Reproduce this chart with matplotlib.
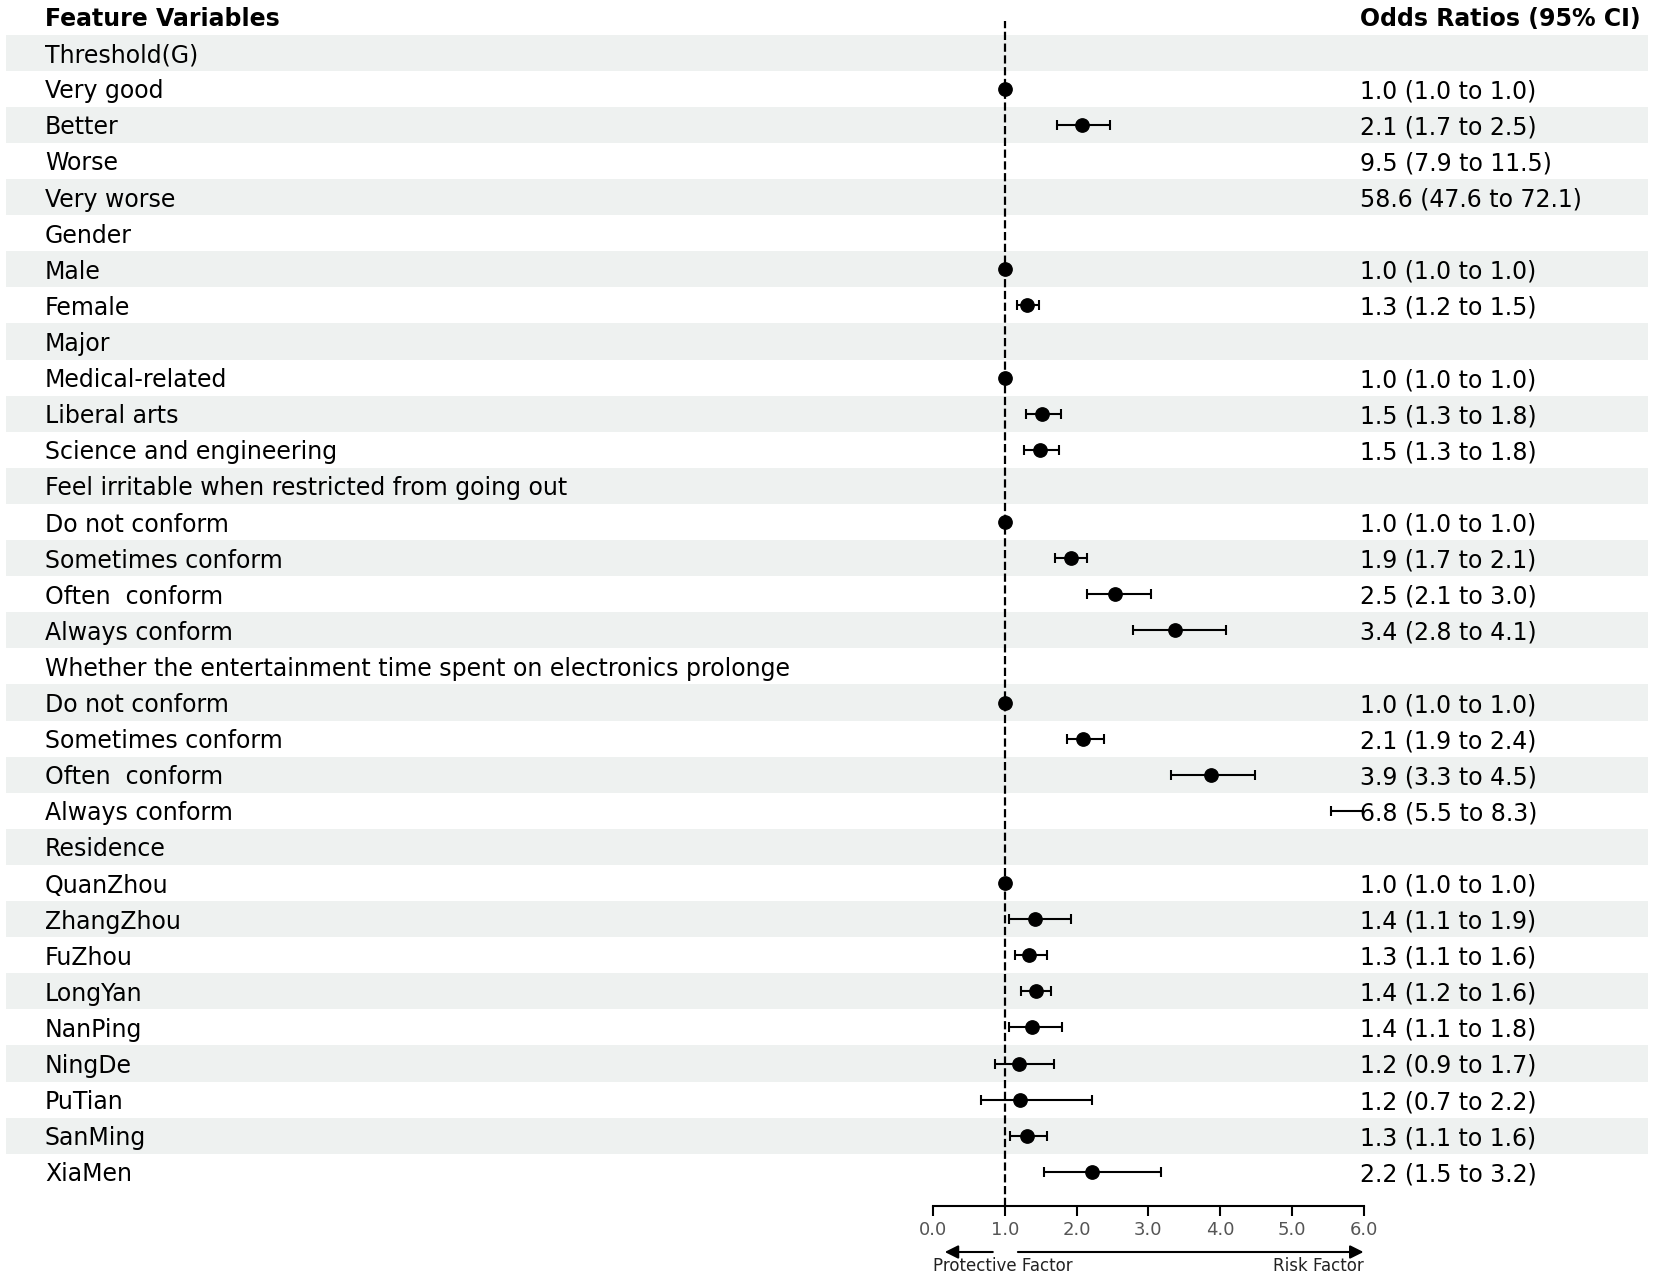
import numpy as np
import matplotlib
matplotlib.use("Agg")
import matplotlib.pyplot as plt

# ---------------- data ----------------
labels = [
    "Threshold(G)", "Very good", "Better", "Worse", "Very worse",
    "Gender", "Male", "Female",
    "Major", "Medical-related", "Liberal arts", "Science and engineering",
    "Feel irritable when restricted from going out",
    "Do not conform", "Sometimes conform", "Often  conform", "Always conform",
    "Whether the entertainment time spent on electronics prolonge",
    "Do not conform", "Sometimes conform", "Often  conform", "Always conform",
    "Residence", "QuanZhou", "ZhangZhou", "FuZhou", "LongYan", "NanPing",
    "NingDe", "PuTian", "SanMing", "XiaMen",
]
nan = np.nan
odds = [nan, 1.0, 2.07, 9.5, 58.6,
        nan, 1.0, 1.31,
        nan, 1.0, 1.52, 1.49,
        nan, 1.0, 1.92, 2.54, 3.37,
        nan, 1.0, 2.09, 3.87, 6.8,
        nan, 1.0, 1.42, 1.34, 1.43, 1.38, 1.20, 1.21, 1.30, 2.21]
ci_low = [nan, 1.0, 1.73, 7.9, 47.6,
          nan, 1.0, 1.17,
          nan, 1.0, 1.29, 1.27,
          nan, 1.0, 1.70, 2.14, 2.78,
          nan, 1.0, 1.86, 3.32, 5.54,
          nan, 1.0, 1.06, 1.14, 1.22, 1.06, 0.86, 0.67, 1.07, 1.54]
ci_high = [nan, 1.0, 2.47, 11.5, 72.1,
           nan, 1.0, 1.48,
           nan, 1.0, 1.78, 1.76,
           nan, 1.0, 2.14, 3.04, 4.08,
           nan, 1.0, 2.38, 4.49, 8.3,
           nan, 1.0, 1.92, 1.58, 1.64, 1.79, 1.69, 2.22, 1.58, 3.18]
xticks = [0.0, 1.0, 2.0, 3.0, 4.0, 5.0, 6.0]

# ---------------- layout helpers ----------------
W, H = 1654, 1280
row0, dr = 52.7, 36.1           # pixel centre of first row, row pitch
def r_of(p):
    return (p - row0) / dr

fig = plt.figure(figsize=(W / 100, H / 100), dpi=100)
fig.patch.set_facecolor("white")

# background axes in pixel-like coordinates
bg = fig.add_axes([0, 0, 1, 1])
bg.set_xlim(0, W)
bg.set_ylim(r_of(H), r_of(0))
bg.axis("off")

n = len(labels)
rows = np.arange(n)
for i in rows:
    if i % 2 == 0:
        bg.add_patch(plt.Rectangle((6, i - 0.5), 1642, 1.0,
                                   facecolor="#eef1f0", edgecolor="none", zorder=0))

FS = 17
bg.text(45, -1, "Feature Variables", fontsize=FS, fontweight="bold",
        ha="left", va="center_baseline", zorder=3)
bg.text(1360, -1, "Odds Ratios (95% CI)", fontsize=FS, fontweight="bold",
        ha="left", va="center_baseline", zorder=3)
for i, lab in enumerate(labels):
    bg.text(45, i, lab, fontsize=FS, ha="left", va="center_baseline", zorder=3)
    if not np.isnan(odds[i]):
        s = f"{odds[i]:.1f} ({ci_low[i]:.1f} to {ci_high[i]:.1f})"
        bg.text(1360, i, s, fontsize=FS, ha="left", va="center_baseline", zorder=3)

# forest axes
x0_px, x6_px = 933.3, 1363.5
top_px, bot_px = 21, 1206
ax = fig.add_axes([x0_px / W, (H - bot_px) / H, (x6_px - x0_px) / W, (bot_px - top_px) / H])
ax.patch.set_alpha(0)
ax.set_xlim(0, 6)
ax.set_ylim(r_of(bot_px), r_of(top_px))

odds_a = np.array(odds)
lo_a = np.array(ci_low)
hi_a = np.array(ci_high)
mask = ~np.isnan(odds_a)
ax.axvline(1.0, color="black", ls="--", lw=1.6, zorder=1)
ax.errorbar(odds_a[mask], rows[mask],
            xerr=[odds_a[mask] - lo_a[mask], hi_a[mask] - odds_a[mask]],
            fmt="o", color="black", ms=9.6, ecolor="black", elinewidth=1.5,
            capsize=3.6, capthick=1.5, zorder=2)

for sp in ["top", "right", "left"]:
    ax.spines[sp].set_visible(False)
ax.spines["bottom"].set_linewidth(1.5)
ax.set_yticks([])
ax.set_xticks(xticks)
ax.set_xticklabels([f"{t:.1f}" for t in xticks])
ax.tick_params(axis="x", length=7, width=1.5, labelsize=13, labelcolor="#555555", pad=4)

# direction arrows
tr = ax.get_xaxis_transform()
ya = -(1252 - bot_px) / (bot_px - top_px)
yt = -(1266 - bot_px) / (bot_px - top_px)
ax.annotate("", xy=(0.16, ya), xytext=(0.83, ya), xycoords=tr, textcoords=tr,
            arrowprops=dict(arrowstyle="-|>", lw=1.5, color="black", mutation_scale=20,
                            shrinkA=0, shrinkB=0), annotation_clip=False)
ax.annotate("", xy=(6.0, ya), xytext=(1.18, ya), xycoords=tr, textcoords=tr,
            arrowprops=dict(arrowstyle="-|>", lw=1.5, color="black", mutation_scale=20,
                            shrinkA=0, shrinkB=0), annotation_clip=False)
ax.text(0.0, yt, "Protective Factor", transform=tr, fontsize=12, ha="left",
        va="center", color="#222222")
ax.text(6.0, yt, "Risk Factor", transform=tr, fontsize=12, ha="right",
        va="center", color="#222222")

fig.savefig("out.png", dpi=100, facecolor="white")
